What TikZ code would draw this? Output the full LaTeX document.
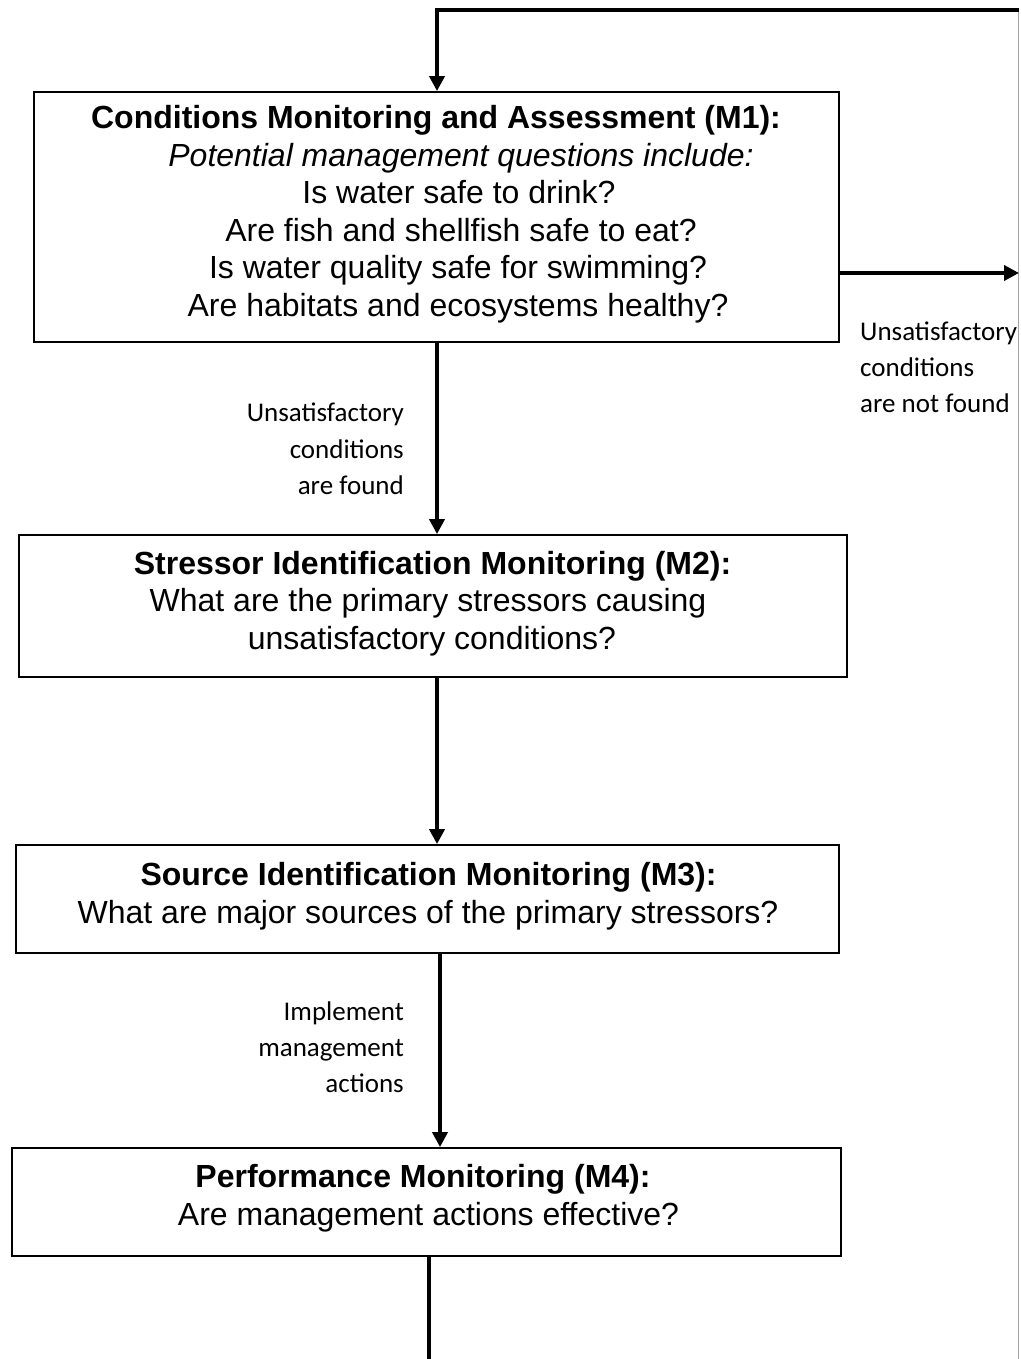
\documentclass[tikz,border=0pt]{standalone}
\usepackage{fontspec}
\setmainfont{Liberation Sans}
\newfontfamily\calibrifont{Carlito}
\usetikzlibrary{arrows.meta}
\begin{document}
\begin{tikzpicture}[x=1pt,y=-1pt,
  box/.style={draw, line width=1.8pt, inner sep=0pt},
  arr/.style={line width=4pt, line join=miter, -{Triangle[width=15pt,length=15pt]}},
  ln/.style={line width=4pt},
  ttl/.style={anchor=base, inner sep=0pt, font=\fontsize{32}{37}\selectfont\bfseries},
  txt/.style={anchor=base, inner sep=0pt, font=\fontsize{32}{37}\selectfont},
  itx/.style={anchor=base, inner sep=0pt, font=\fontsize{32}{37}\selectfont\itshape},
  lble/.style={anchor=base east, inner sep=0pt, font=\calibrifont\fontsize{27}{37}\selectfont},
  lblw/.style={anchor=base west, inner sep=0pt, font=\calibrifont\fontsize{27}{37}\selectfont}]
\useasboundingbox (0,0) rectangle (1020,1359);
\fill[white] (0,0) rectangle (1020,1359);

% boxes
\node[box, minimum width=805pt, minimum height=250pt] (m1) at (436.5,217) {};
\node[box, minimum width=828pt, minimum height=142pt] (m2) at (433,606) {};
\node[box, minimum width=823pt, minimum height=108pt] (m3) at (427.5,899) {};
\node[box, minimum width=829pt, minimum height=108pt] (m4) at (426.5,1202) {};

% texts M1
\node[ttl] (t1) at (436,129) {Conditions Monitoring and Assessment (M1):};
\node[itx] (t1a) at (461,166.5) {Potential management questions include:};
\node[txt] (t1b) at (459,204) {Is water safe to drink?};
\node[txt] (t1c) at (461,241) {Are fish and shellfish safe to eat?};
\node[txt] (t1d) at (458,278) {Is water quality safe for swimming?};
\node[txt] (t1e) at (458,316) {Are habitats and ecosystems healthy?};

% texts M2
\node[ttl] (t2) at (432.5,574) {Stressor Identification Monitoring (M2):};
\node[txt] (t2a) at (428,611) {What are the primary stressors causing};
\node[txt] (t2b) at (432,649) {unsatisfactory conditions?};

% texts M3
\node[ttl] (t3) at (428.5,885) {Source Identification Monitoring (M3):};
\node[txt] (t3a) at (428,923) {What are major sources of the primary stressors?};

% texts M4
\node[ttl] (t4) at (423,1187) {Performance Monitoring (M4):};
\node[txt] (t4a) at (428.5,1225) {Are management actions effective?};

% labels
\node[lble] (l1a) at (404,421) {Unsatisfactory};
\node[lble] (l1b) at (404,458) {conditions};
\node[lble] (l1c) at (404,494) {are found};

\node[lblw] (l2a) at (860,340) {Unsatisfactory};
\node[lblw] (l2b) at (860,376) {conditions};
\node[lblw] (l2c) at (860,412) {are not found};

\node[lble] (l3a) at (404,1020) {Implement};
\node[lble] (l3b) at (404,1056) {management};
\node[lble] (l3c) at (404,1092) {actions};

% helper coordinates
\coordinate (topR) at (1019,10);
\coordinate (topL) at (437,10);
\coordinate (ax1) at (437,0);
\coordinate (ax3) at (440,0);
\coordinate (ax4) at (429,0);
\coordinate (rgt) at (1019,273);
\coordinate (bot) at (429,1359);
\coordinate (rgtTop) at (1018.5,10);
\coordinate (rgtBot) at (1018.5,1359);

% right thin gray line
\draw[line width=1.3pt, gray!70] (rgtTop) -- (rgtBot);

% connectors
\draw[arr] (topR) -- (topL) -- (m1.north -| topL);
\draw[arr] (m1.south -| ax1) -- (m2.north -| ax1);
\draw[arr] (m2.south -| ax1) -- (m3.north -| ax1);
\draw[arr] (m3.south -| ax3) -- (m4.north -| ax3);
\draw[ln] (m4.south -| ax4) -- (bot);
\draw[arr] (m1.east |- rgt) -- (rgt);
\end{tikzpicture}
\end{document}
